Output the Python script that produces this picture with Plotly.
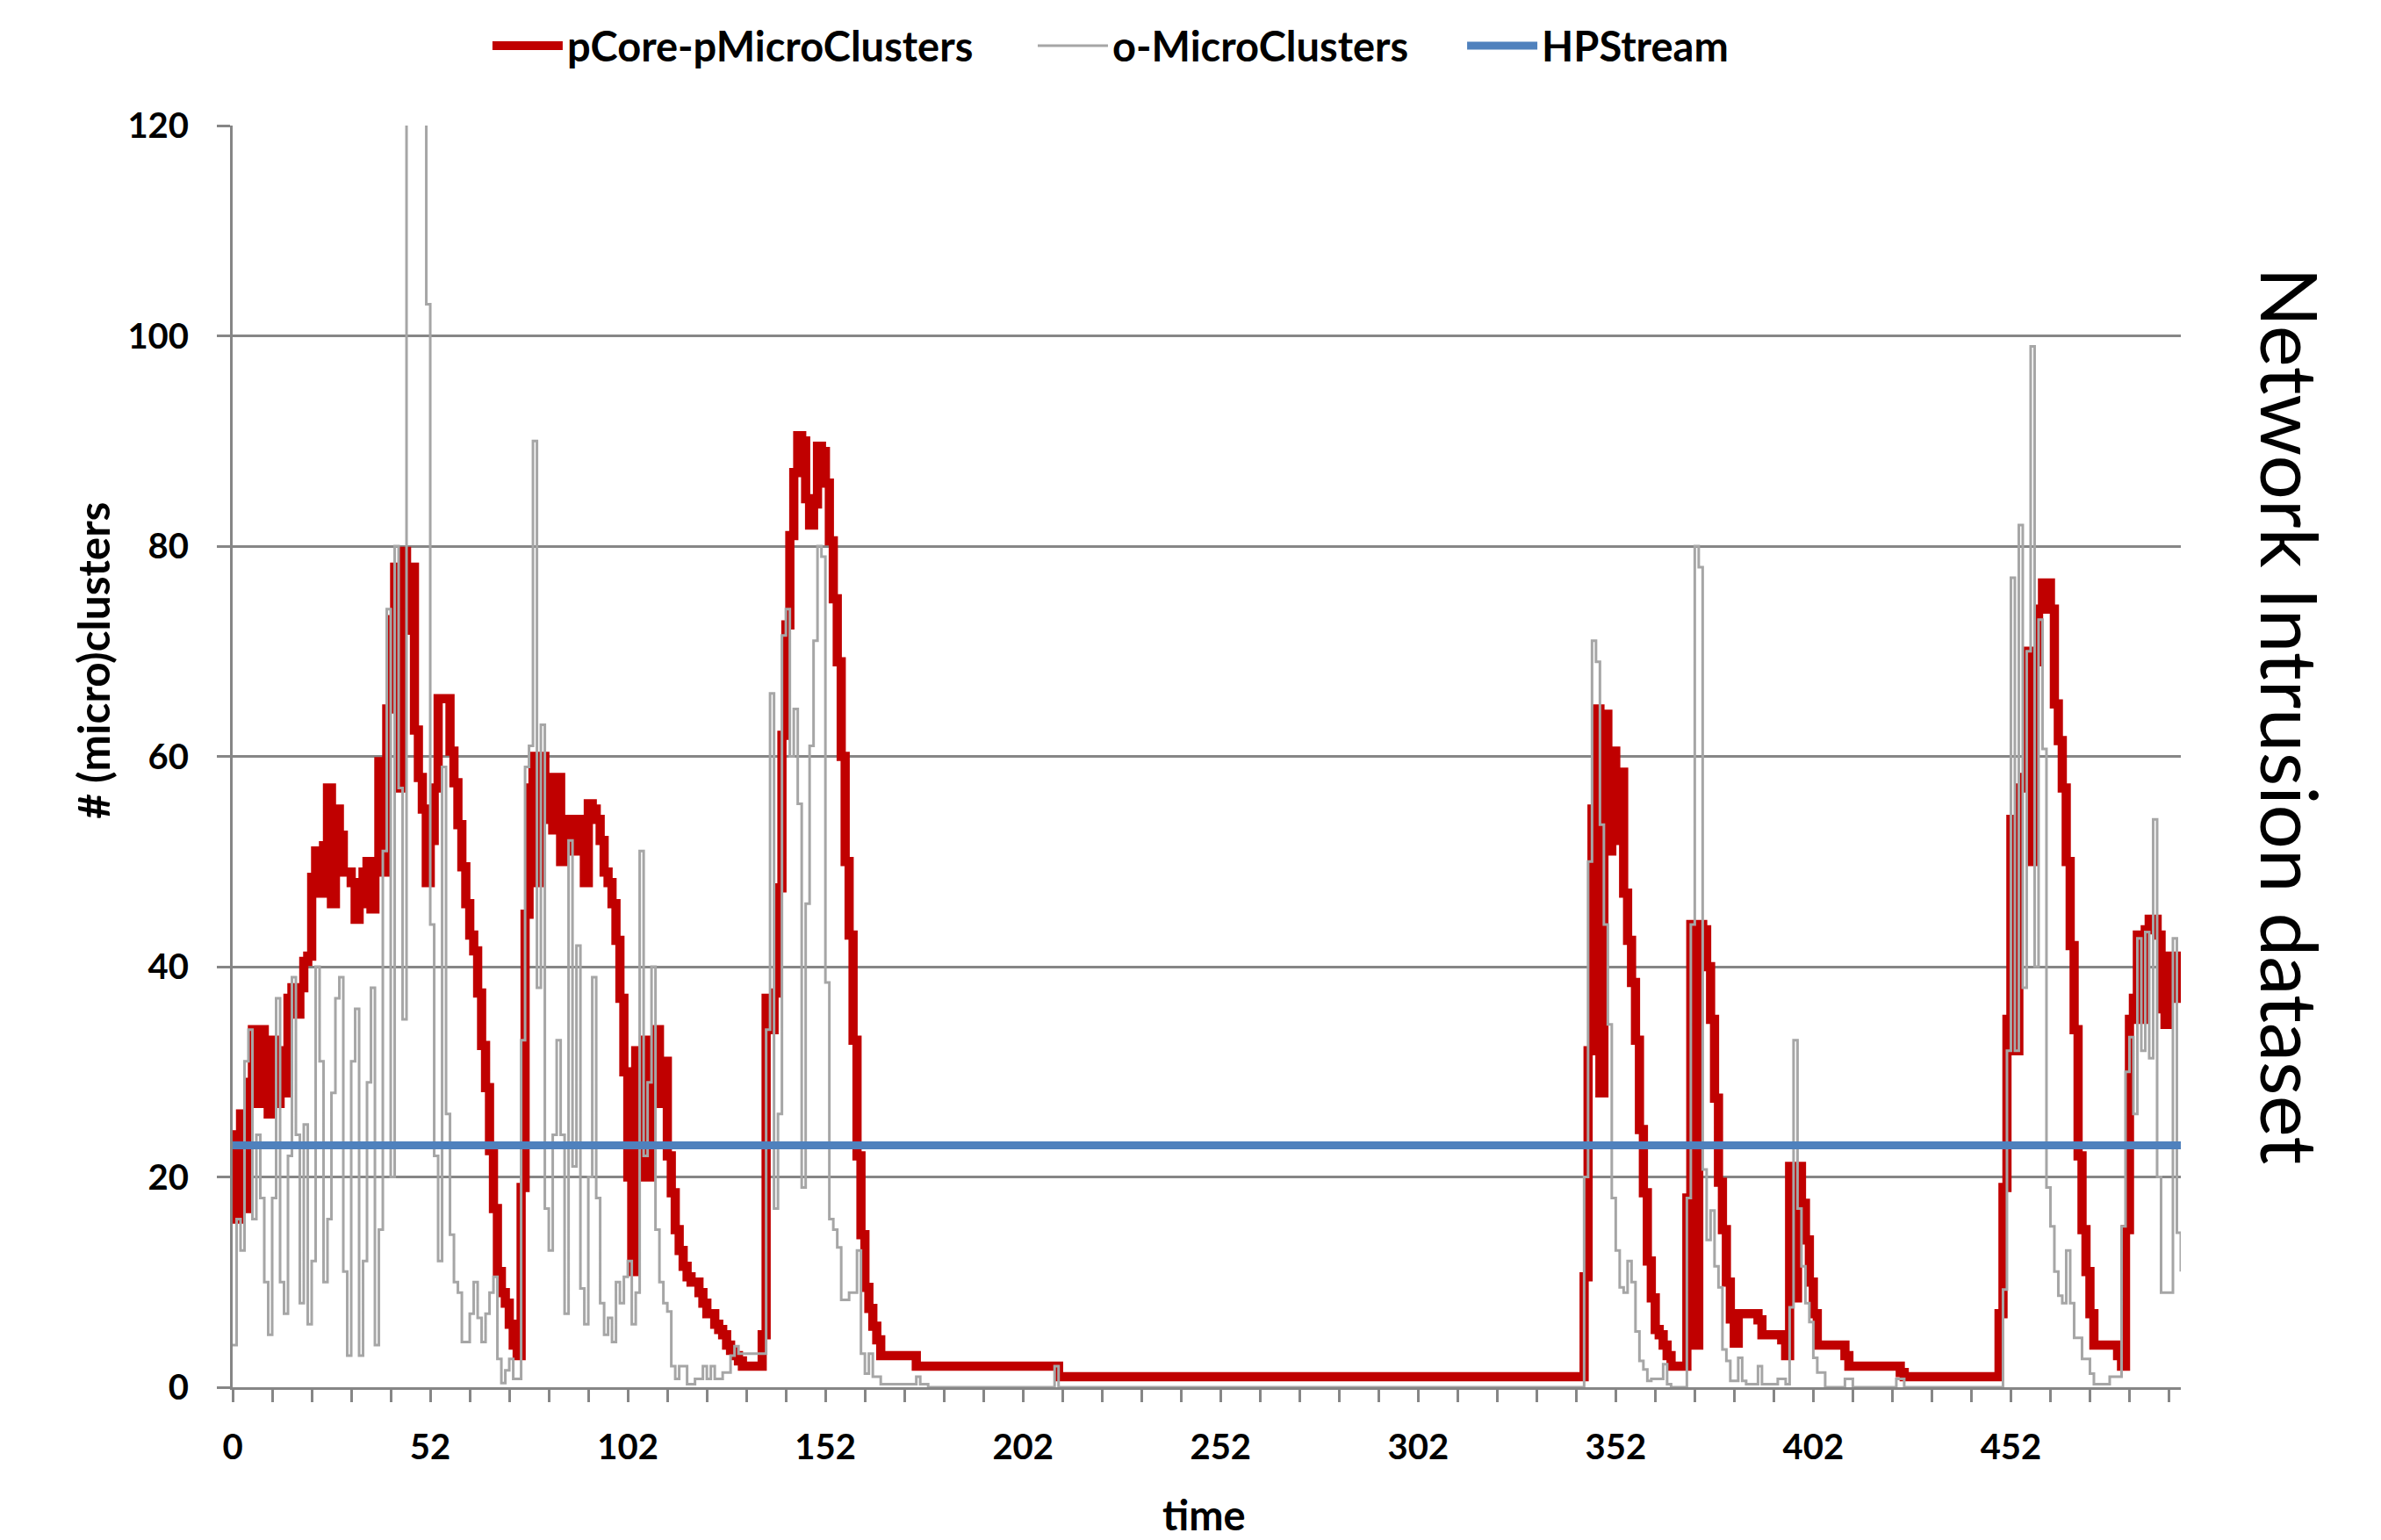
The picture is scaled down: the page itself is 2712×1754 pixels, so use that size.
import plotly.graph_objects as go

# ---------------- data ----------------
# x axis: time index (category position); tick labels as printed on the chart
x_tick_pos = [0, 50, 100, 150, 200, 250, 300, 350, 400, 450]
x_tick_text = ["0", "52", "102", "152", "202", "252", "302", "352", "402", "452"]

# pCore-pMicroClusters : one value per time index 0..164, then change points
red_dense_values = [
    24, 16, 26, 17, 29, 34, 27, 34, 31, 26,
    33, 27, 32, 28, 37, 38, 35.5, 38, 40.5, 41,
    48.5, 51, 47, 51.5, 57, 46, 55, 52.5, 49, 49,
    48, 44.5, 46, 49, 50, 45.5, 50, 59.5, 49, 64.5,
    73, 78, 57, 79.5, 72, 78, 62.5, 58, 55, 48,
    52, 57, 65.5, 65.5, 65.5, 60.5, 57.5, 53.5, 49.5, 46,
    43, 41.5, 37.5, 32.5, 28.5, 22.5, 17, 11, 9, 8,
    6, 4, 3, 19, 45, 57, 60, 48, 60, 54,
    58, 53, 58, 50, 53.5, 54, 51, 54, 52, 48,
    55.5, 55, 54, 52, 49, 48, 46, 42.5, 37, 30,
    20, 11, 32, 20, 33, 20, 29, 34, 27, 31,
    22, 18.5, 15, 13, 11.5, 10.5, 10, 10, 9, 8,
    7, 7, 6, 5.5, 5, 4, 3.5, 3, 2.5, 2,
    2, 2, 2, 2, 5, 37, 34, 37.5, 47.5, 62,
    72.5, 81, 87, 90.5, 90, 84.5, 82, 84, 89.5, 89,
    86, 80.5, 75, 69, 60, 50, 43, 33, 22, 14.5,
    9.5, 7.5, 5.8, 4.5, 3,
]
red_tail_time = [
    173, 209, 342, 343, 344, 345, 346, 347, 348, 349,
    350, 351, 352, 353, 354, 355, 356, 357, 358, 359,
    360, 361, 362, 363, 364, 368, 369, 370, 371, 372,
    373, 374, 375, 376, 377, 378, 379, 380, 381, 386,
    387, 392, 393, 394, 395, 396, 397, 398, 399, 400,
    401, 408, 409, 422, 423, 447, 448, 449, 450, 451,
    452, 453, 454, 455, 456, 457, 458, 460, 461, 462,
    463, 464, 465, 466, 467, 468, 469, 470, 471, 477,
    478, 479, 480, 481, 482, 483, 484, 485, 487, 488,
    489, 490, 491, 492, 493,
]
red_tail_values = [
    2, 1, 10.5, 32, 55, 64.5, 28, 64, 51, 60.5,
    52, 58.5, 47, 42.5, 38.5, 33, 24.5, 18.5, 12, 8.5,
    5.5, 5, 4, 3, 2, 18, 44, 4, 44, 43.5,
    40, 35, 27.5, 19.5, 15, 10, 6.5, 4.2, 7, 6.4,
    5, 4.5, 3, 21, 8.5, 21, 17.5, 14, 10, 7,
    4, 3, 2, 1.4, 1, 7, 19, 35, 54, 32,
    57, 58, 70, 50, 69, 74, 76.5, 74, 65, 61.5,
    57, 50, 42, 34, 22, 15, 11, 7, 4, 3,
    2, 15, 35, 37, 43, 35, 43.5, 44.5, 43, 36,
    34.5, 41, 37, 41, 38,
]

# o-MicroClusters : one value per time index 0..164, then change points
grey_dense_values = [
    4, 16, 13, 31, 34, 16, 24, 18, 10, 5,
    18, 37, 10, 7, 22, 39, 24, 8, 25, 6,
    12, 40, 31, 10, 16, 28, 37, 39, 11, 3,
    31, 36, 3, 12, 29, 38, 4, 15, 51, 74,
    20, 80, 57, 35, 135, 135, 135, 135, 135, 103,
    44, 22, 12, 59, 26, 14.5, 10, 9, 4.3, 4.3,
    7, 10, 6.6, 4.3, 7, 9, 10.5, 2.7, 0.4, 1.6,
    2.7, 0.8, 0.8, 33, 59, 61, 90, 38, 63, 17,
    13, 24, 33, 24, 7, 52, 21, 42, 9.4, 6,
    20, 39, 18, 8, 5, 6.6, 4.3, 10, 8, 10.5,
    12, 6, 9, 51, 22, 29, 40, 15, 10, 8,
    7.2, 2, 0.8, 2, 2, 0.3, 0.3, 0.8, 0.8, 2,
    0.8, 2, 0.8, 0.8, 1.4, 1.4, 3, 3.9, 3.2, 3.2,
    3.2, 3.2, 3.2, 3.2, 3.2, 34, 66, 17, 26, 71.5,
    74, 60, 64.5, 55.5, 19, 46, 61, 71, 80, 79,
    38.5, 16, 15, 13.3, 8.3, 8.3, 9, 9, 13, 3.2,
    1.3, 3.2, 1, 1, 0.3,
]
grey_tail_time = [
    173, 174, 176, 208, 209, 342, 343, 344, 345, 346,
    347, 348, 349, 350, 351, 352, 353, 354, 355, 356,
    357, 358, 359, 362, 363, 364, 368, 369, 370, 371,
    372, 373, 374, 375, 376, 377, 378, 379, 381, 382,
    383, 386, 387, 391, 393, 394, 395, 396, 397, 398,
    399, 400, 401, 403, 408, 410, 421, 423, 448, 449,
    450, 451, 452, 453, 454, 455, 456, 457, 458, 459,
    460, 461, 462, 463, 464, 465, 466, 468, 470, 471,
    475, 478, 479, 480, 481, 482, 483, 484, 485, 486,
    487, 488, 491, 492, 493,
]
grey_tail_values = [
    1, 0.3, 0, 2, 0, 20, 50, 71, 69, 53.5,
    44, 34.5, 18, 13, 9.5, 9, 12, 10, 5.3, 2.5,
    1.7, 0.6, 0.8, 2.2, 0.3, 0, 18, 44, 80, 78,
    20.7, 14, 16.8, 11.5, 9.5, 3.6, 2.5, 0.6, 2.8, 0.6,
    0.3, 2, 0.3, 0.8, 0.3, 7.6, 33, 17, 11.5, 8,
    6.2, 2.8, 1.4, 0, 0.8, 0, 0.8, 0, 9.3, 32,
    77, 32, 82, 38, 70, 99, 40, 73, 60.7, 19,
    15.3, 11, 8.7, 8, 13, 8, 4.7, 2.7, 1.3, 0.3,
    1, 15.3, 30, 33.3, 26, 42.7, 32, 43.3, 31.3, 54,
    20, 9, 42.7, 14.7, 11,
]

# HPStream : constant number of clusters over the whole stream
hp_time = [0, 493]
hp_values = [23, 23]

# ---------------- assemble series ----------------
red_time = list(range(len(red_dense_values))) + red_tail_time
red_values = red_dense_values + red_tail_values
grey_time = list(range(len(grey_dense_values))) + grey_tail_time
grey_values = grey_dense_values + grey_tail_values

GRID = "#868686"
FONT = "Lato, 'Open Sans', sans-serif"
LEG_FONT = dict(size=47, weight="bold", family=FONT, color="black")


def legend_at(xpos):
    return dict(orientation="h", x=xpos, xanchor="left", y=1.063, yanchor="middle",
                font=LEG_FONT, itemwidth=80, bgcolor="rgba(0,0,0,0)")


fig = go.Figure()
fig.add_trace(go.Scatter(
    x=red_time, y=red_values, mode="lines", name="pCore-pMicroClusters",
    line=dict(color="#C00000", width=10.5, shape="hv"), legend="legend"))
fig.add_trace(go.Scatter(
    x=grey_time, y=grey_values, mode="lines", name="o-MicroClusters",
    line=dict(color="#A6A6A6", width=3, shape="hv"), legend="legend2"))
fig.add_trace(go.Scatter(
    x=hp_time, y=hp_values, mode="lines", name="HPStream",
    line=dict(color="#4F81BD", width=9), legend="legend3"))

fig.update_layout(
    width=2712, height=1754, autosize=False,
    margin=dict(l=265, r=228, t=143, b=174, pad=0),
    paper_bgcolor="white", plot_bgcolor="white",
    font=dict(family=FONT, color="black"),
    showlegend=True,
    legend=legend_at(0.1311),
    legend2=legend_at(0.411),
    legend3=legend_at(0.6314),
    xaxis=dict(range=[0, 493], tickmode="array", tickvals=x_tick_pos, ticktext=x_tick_text,
               ticks="outside", ticklen=14, tickwidth=2.5, tickcolor=GRID,
               showline=True, linecolor=GRID, linewidth=3, showgrid=False, zeroline=False,
               tickfont=dict(size=40, weight="bold", family=FONT, color="black"),
               ticklabelstandoff=17, layer="below traces",
               minor=dict(dtick=10, tick0=0, ticks="outside", ticklen=14, tickwidth=2.5,
                          tickcolor=GRID, showgrid=False)),
    yaxis=dict(range=[0, 120], tick0=0, dtick=20, ticks="outside", ticklen=15,
               tickwidth=2.7, tickcolor=GRID, showline=True, linecolor=GRID, linewidth=3,
               showgrid=True, gridcolor=GRID, gridwidth=2.7, zeroline=False,
               tickfont=dict(size=40, weight="bold", family=FONT, color="black"),
               ticklabelstandoff=24, layer="below traces"),
    annotations=[
        dict(text="time", xref="paper", yref="paper", x=0.4985, y=-0.101,
             xanchor="center", yanchor="middle", showarrow=False,
             font=dict(size=47, weight="bold", family=FONT, color="black")),
        dict(text="# (micro)clusters", xref="paper", yref="paper", x=-0.0715, y=0.576,
             xanchor="center", yanchor="middle", showarrow=False, textangle=-90,
             font=dict(size=49.5, weight="bold", family=FONT, color="black")),
        dict(text="Network Intrusion dataset", xref="paper", yref="paper", x=1.0565, y=0.532,
             xanchor="center", yanchor="middle", showarrow=False, textangle=90,
             font=dict(size=89, weight="normal", family=FONT, color="black")),
    ],
)

fig.write_html("out.html")
